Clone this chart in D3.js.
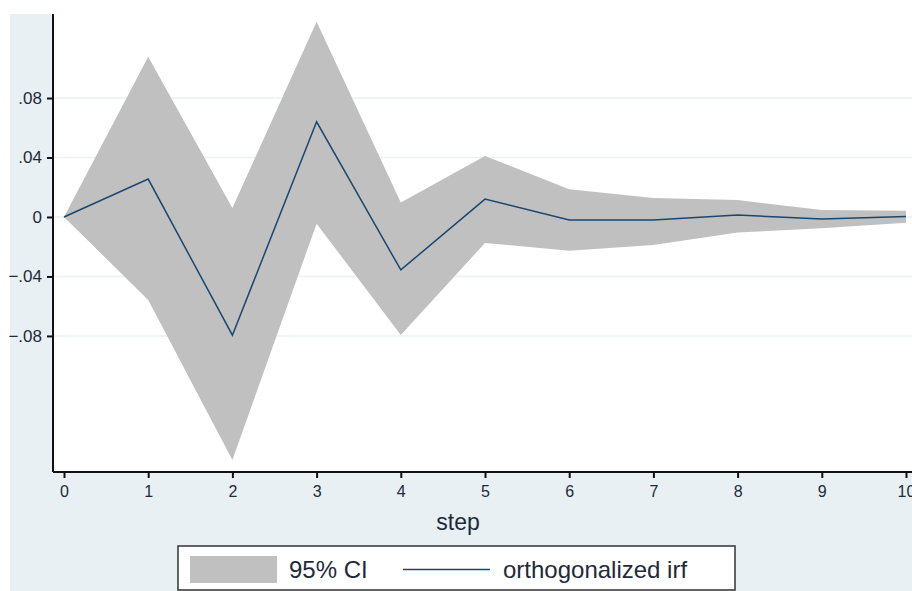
<!DOCTYPE html>
<html>
<head>
<meta charset="utf-8">
<script src="https://cdn.jsdelivr.net/npm/d3@7"></script>
<style>
  body { margin: 0; background: #fff; }
  text { font-family: Arial, "Liberation Sans", sans-serif; }
</style>
</head>
<body>
<script>
// data
const steps = [0, 1, 2, 3, 4, 5, 6, 7, 8, 9, 10];
const irf = [0, 0.0255, -0.0795, 0.064, -0.0356, 0.012, -0.002, -0.002, 0.0013, -0.0013, 0.0003];
const upper = [0, 0.1078, 0.006, 0.1313, 0.0098, 0.041, 0.0187, 0.0128, 0.0114, 0.0047, 0.0042];
const lower = [0, -0.0558, -0.1634, -0.0045, -0.0794, -0.0175, -0.0227, -0.0188, -0.0105, -0.0075, -0.0038];
const yTicks = [-0.08, -0.04, 0, 0.04, 0.08];
const xTicks = [0, 1, 2, 3, 4, 5, 6, 7, 8, 9, 10];

const W = 912;
const H = 591;
const plot = { left: 53, top: 14, right: 912, bottom: 472 };

const svg = d3.select('body').append('svg')
  .attr('width', W)
  .attr('height', H);

// outer graph region (Stata light blue)
svg.append('rect')
  .attr('x', 10).attr('y', 14)
  .attr('width', W - 10).attr('height', H - 14)
  .attr('fill', '#e8f0f3');

// plot region
svg.append('rect')
  .attr('x', plot.left).attr('y', plot.top)
  .attr('width', plot.right - plot.left).attr('height', plot.bottom - plot.top)
  .attr('fill', '#fff');

const x = d3.scaleLinear().domain([0, 10]).range([64, 906]);
const y = d3.scaleLinear().domain([-0.1715, 0.1365]).range([plot.bottom, plot.top]);

// gridlines
svg.append('g').selectAll('line')
  .data(yTicks)
  .join('line')
  .attr('x1', plot.left).attr('x2', plot.right)
  .attr('y1', d => y(d)).attr('y2', d => y(d))
  .attr('stroke', '#eaf2f3')
  .attr('stroke-width', 1.5);

const rows = steps.map((s, i) => ({ s, v: irf[i], lo: lower[i], hi: upper[i] }));

// confidence band
svg.append('path')
  .datum(rows)
  .attr('fill', '#c0c0c0')
  .attr('d', d3.area().x(d => x(d.s)).y0(d => y(d.lo)).y1(d => y(d.hi)));

// irf line
svg.append('path')
  .datum(rows)
  .attr('fill', 'none')
  .attr('stroke', '#1a476f')
  .attr('stroke-width', 1.5)
  .attr('d', d3.line().x(d => x(d.s)).y(d => y(d.v)));

const fmt = d => (d === 0 ? '0' : d3.format('.2f')(d).replace('0.', '.'));

// y axis
const yAxis = svg.append('g')
  .attr('transform', `translate(${plot.left},0)`)
  .call(d3.axisLeft(y).tickValues(yTicks).tickFormat(fmt).tickSize(6).tickPadding(5));
yAxis.select('.domain').attr('d', `M0,${plot.top}V${plot.bottom}`).attr('stroke', '#111').attr('stroke-width', 2);
yAxis.selectAll('.tick line').attr('stroke', '#111').attr('stroke-width', 2);
yAxis.selectAll('.tick text').attr('font-size', 17).attr('fill', '#1e2a3a')
  .attr('font-family', 'Arial, "Liberation Sans", sans-serif');

// x axis
const xAxis = svg.append('g')
  .attr('transform', `translate(0,${plot.bottom})`)
  .call(d3.axisBottom(x).tickValues(xTicks).tickFormat(d3.format('d')).tickSize(6).tickPadding(8));
xAxis.select('.domain').attr('d', `M${plot.left},0H${plot.right}`).attr('stroke', '#111').attr('stroke-width', 2);
xAxis.selectAll('.tick line').attr('stroke', '#111').attr('stroke-width', 2);
xAxis.selectAll('.tick text').attr('font-size', 16).attr('fill', '#1e2a3a')
  .attr('font-family', 'Arial, "Liberation Sans", sans-serif');

// axis title
svg.append('text')
  .attr('x', 458).attr('y', 530)
  .attr('text-anchor', 'middle')
  .attr('font-size', 23)
  .attr('fill', '#1e2a3a')
  .text('step');

// legend
const leg = svg.append('g');
leg.append('rect')
  .attr('x', 178).attr('y', 546).attr('width', 557).attr('height', 44)
  .attr('fill', '#fff').attr('stroke', '#333').attr('stroke-width', 1.5);
leg.append('rect')
  .attr('x', 190).attr('y', 556).attr('width', 87).attr('height', 27)
  .attr('fill', '#c0c0c0');
leg.append('text')
  .attr('x', 289).attr('y', 578)
  .attr('font-size', 24).attr('fill', '#1e2a3a')
  .text('95% CI');
leg.append('line')
  .attr('x1', 403).attr('x2', 490).attr('y1', 569.5).attr('y2', 569.5)
  .attr('stroke', '#1a476f').attr('stroke-width', 1.5);
leg.append('text')
  .attr('x', 503).attr('y', 578)
  .attr('font-size', 24).attr('fill', '#1e2a3a')
  .text('orthogonalized irf');
</script>
</body>
</html>
